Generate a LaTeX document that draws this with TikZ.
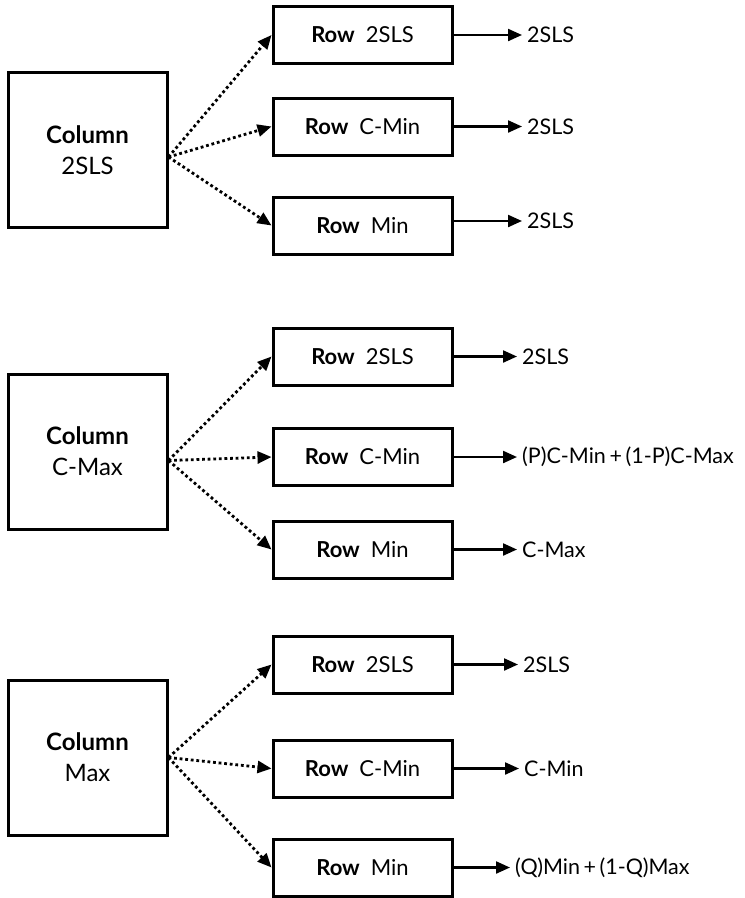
\documentclass[tikz,border=0pt]{standalone}
\usepackage{fontspec}
\setmainfont{Lato}
\usetikzlibrary{arrows.meta}
\begin{document}
\begin{tikzpicture}[x=1pt,y=-1pt,
  colbox/.style={draw, line width=3pt, minimum width=159pt, minimum height=155pt, inner sep=0pt, align=center, font=\fontsize{24}{31}\selectfont},
  rowbox/.style={draw, line width=3pt, minimum width=179pt, minimum height=57pt, inner sep=0pt, font=\fontsize{22}{24}\selectfont},
  outtxt/.style={anchor=west, inner sep=0pt, font=\fontsize{21.5}{24}\selectfont},
  dotarrow/.style={line width=2.8pt, dash pattern=on 2.8pt off 2.8pt, -{Triangle[length=14pt,width=12pt]}},
  outarrow/.style={line width=2.2pt, -{Triangle[length=14pt,width=12pt]}, shorten >=5pt}
]
\useasboundingbox (0,0) rectangle (745,898);
\fill[white] (0,0) rectangle (745,898);

% group 1
\node[colbox] (c1) at (87.5,150) {\textbf{Column}\\2SLS};
\node[rowbox] (r11) at (362.5,35) {\textbf{Row}\hspace{0.5em}2SLS};
\node[rowbox] (r12) at (362.5,126.5) {\textbf{Row}\hspace{0.5em}C-Min};
\node[rowbox] (r13) at (362.5,225.5) {\textbf{Row}\hspace{0.5em}Min};
\node[outtxt] (o11) at (527,35) {2SLS};
\node[outtxt] (o12) at (527,126.5) {2SLS};
\node[outtxt] (o13) at (527,221) {2SLS};
\coordinate (s1) at ([yshift=-7pt]c1.east);

% group 2
\node[colbox] (c2) at (87.5,451.5) {\textbf{Column}\\C-Max};
\node[rowbox] (r21) at (362.5,356.5) {\textbf{Row}\hspace{0.5em}2SLS};
\node[rowbox] (r22) at (362.5,457) {\textbf{Row}\hspace{0.5em}C-Min};
\node[rowbox] (r23) at (362.5,549.5) {\textbf{Row}\hspace{0.5em}Min};
\node[outtxt] (o21) at (522,356.5) {2SLS};
\node[outtxt] (o22) at (522,457) {(P)C-Min\,+\,(1-P)C-Max};
\node[outtxt] (o23) at (522,549.5) {C-Max};
\coordinate (s2) at ([yshift=-9pt]c2.east);

% group 3
\node[colbox] (c3) at (87.5,757.5) {\textbf{Column}\\Max};
\node[rowbox] (r31) at (362.5,664.5) {\textbf{Row}\hspace{0.5em}2SLS};
\node[rowbox] (r32) at (362.5,768.5) {\textbf{Row}\hspace{0.5em}C-Min};
\node[rowbox] (r33) at (362.5,867.5) {\textbf{Row}\hspace{0.5em}Min};
\node[outtxt] (o31) at (523,664.5) {2SLS};
\node[outtxt] (o32) at (524,768.5) {C-Min};
\node[outtxt] (o33) at (515,867.5) {(Q)Min\,+\,(1-Q)Max};
\coordinate (s3) at (c3.east);

\foreach \g in {1,2,3}{
  \foreach \r in {1,2,3}{
    \draw[dotarrow] (s\g) -- (r\g\r.west);
    \draw[outarrow] (r\g\r.east |- o\g\r.west) -- (o\g\r.west);
  }
}
\end{tikzpicture}
\end{document}
